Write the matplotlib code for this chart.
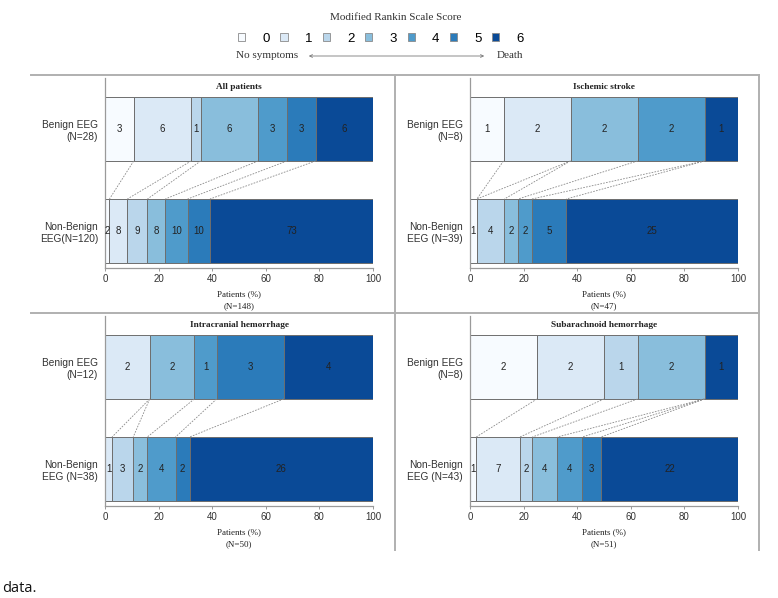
import numpy as np
import matplotlib
matplotlib.use('Agg')
import matplotlib.pyplot as plt
from matplotlib.patches import Patch, FancyArrowPatch
from matplotlib.lines import Line2D

# mRS categories and counts per panel (order: mRS 0..6)
categories = ['0', '1', '2', '3', '4', '5', '6']
colors = ['#f7fbff', '#dbe9f6', '#bad6eb', '#89bedc', '#4f9bcb', '#2b7bba', '#0a4a97']

panel_titles = ['All patients', 'Ischemic stroke', 'Intracranial hemorrhage', 'Subarachnoid hemorrhage']
benign_counts = [[3, 6, 1, 6, 3, 3, 6],
                 [1, 2, 0, 2, 2, 0, 1],
                 [0, 2, 0, 2, 1, 3, 4],
                 [2, 2, 1, 2, 0, 0, 1]]
nonbenign_counts = [[2, 8, 9, 8, 10, 10, 73],
                    [1, 0, 4, 2, 2, 5, 25],
                    [0, 1, 3, 2, 4, 2, 26],
                    [1, 7, 2, 4, 4, 3, 22]]
benign_labels = ['Benign EEG\n(N=28)', 'Benign EEG\n(N=8)', 'Benign EEG\n(N=12)', 'Benign EEG\n(N=8)']
nonbenign_labels = ['Non-Benign\nEEG(N=120)', 'Non-Benign\nEEG (N=39)', 'Non-Benign\nEEG (N=38)', 'Non-Benign\nEEG (N=43)']
total_labels = ['(N=148)', '(N=47)', '(N=50)', '(N=51)']
xticks = [0, 20, 40, 60, 80, 100]

SERIF = 'Liberation Serif'
SANS = 'Liberation Sans'
plt.rcParams['font.family'] = SANS

fig = plt.figure(figsize=(7.78, 5.98), dpi=100)

# axes boxes in figure fraction [left, bottom, width, height]
W, H = 778.0, 598.0
boxes = [[105 / W, 1 - 268 / H, 268 / W, 190 / H],
         [470 / W, 1 - 268 / H, 268 / W, 190 / H],
         [105 / W, 1 - 506 / H, 268 / W, 190 / H],
         [470 / W, 1 - 506 / H, 268 / W, 190 / H]]

bar_h = 0.627
edge = '#6e6e6e'

for k in range(4):
    ax = fig.add_axes(boxes[k])
    rows = [(0, nonbenign_counts[k]), (1, benign_counts[k])]
    cums = {}
    for y, counts in rows:
        counts = np.array(counts, dtype=float)
        pct = counts / counts.sum() * 100
        left = np.concatenate([[0], np.cumsum(pct)[:-1]])
        cums[y] = np.cumsum(pct)
        for i in range(len(categories)):
            if counts[i] == 0:
                continue
            ax.barh(y, pct[i], left=left[i], height=bar_h, color=colors[i],
                    edgecolor=edge, linewidth=0.7)
            ax.text(left[i] + pct[i] / 2, y, '%d' % counts[i], ha='center', va='center',
                    fontsize=7, color='#222222')
    # dashed connectors between category boundaries
    for i in range(len(categories)):
        xt, xb = cums[1][i], cums[0][i]
        if xt < 0.01 and xb < 0.01:
            continue
        ax.plot([xt, xb], [1 - bar_h / 2, bar_h / 2], color='#8a8a8a', lw=0.6,
                ls=(0, (2, 1.5)))

    ax.set_xlim(0, 100)
    ax.set_ylim(-0.363, 1.5)
    ax.set_xticks(xticks)
    ax.set_yticks([0, 1])
    ax.set_yticklabels([nonbenign_labels[k], benign_labels[k]], fontsize=7.3, color='#333333')
    ax.tick_params(axis='x', labelsize=7, labelcolor='#333333', color='#888888',
                   length=2.5, width=0.6, pad=1.5)
    ax.tick_params(axis='y', length=0, pad=5)
    for s in ['top', 'right']:
        ax.spines[s].set_visible(False)
    for s in ['left', 'bottom']:
        ax.spines[s].set_color('#9a9a9a')
        ax.spines[s].set_linewidth(0.9)
    ax.text(50, 1.41, panel_titles[k], ha='center', va='center', fontsize=6.7,
            fontweight='bold', family=SERIF, color='#222222')
    ax.text(0.5, -0.137, 'Patients (%)', transform=ax.transAxes, ha='center', va='center',
            fontsize=6.5, family=SERIF, color='#222222')
    ax.text(0.5, -0.2, total_labels[k], transform=ax.transAxes, ha='center', va='center',
            fontsize=6.5, family=SERIF, color='#222222')

# panel frame lines
frame = '#b0b0b0'
for xs, ys in [([31, 759], [75, 75]), ([31, 759], [313, 313]),
               ([395, 395], [75, 550]), ([759, 759], [75, 550])]:
    fig.add_artist(Line2D([x / W for x in xs], [1 - y / H for y in ys],
                          color=frame, lw=1.4, transform=fig.transFigure))

# legend
handles = [Patch(facecolor=c, edgecolor='#8a8a8a', linewidth=0.6) for c in colors]
fig.legend(handles, categories, loc='center', bbox_to_anchor=(381 / W, 1 - 39 / H),
           ncol=7, frameon=False, fontsize=9.5, handlelength=0.55, handleheight=0.55,
           handletextpad=1.3, columnspacing=0.8, borderpad=0)
fig.text(396 / W, 1 - 17 / H, 'Modified Rankin Scale Score', ha='center', va='center',
         fontsize=8, family=SERIF, color='#333333')
fig.text(236 / W, 1 - 56 / H, 'No symptoms', ha='left', va='center',
         fontsize=8, family=SERIF, color='#333333')
fig.text(523 / W, 1 - 56 / H, 'Death', ha='right', va='center',
         fontsize=8, family=SERIF, color='#333333')
fig.add_artist(FancyArrowPatch((306 / W, 1 - 56 / H), (487 / W, 1 - 56 / H),
                               arrowstyle='<->', mutation_scale=5,
                               color='#777777', lw=0.6, transform=fig.transFigure))

fig.text(2 / W, 1 - 588 / H, 'data.', ha='left', va='center', fontsize=10.5,
         family='Open Sans', color='#111111')

fig.savefig('out.png', dpi=100)
